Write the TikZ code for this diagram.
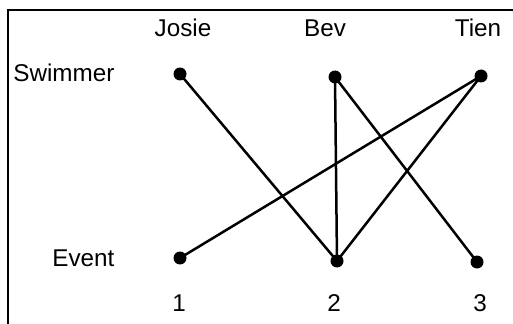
\documentclass[tikz,border=0pt]{standalone}
\usepackage{fontspec}
\setmainfont{Liberation Sans}
\usepackage{tikz}
\usetikzlibrary{shapes,arrows,positioning}

\begin{document}
\begin{tikzpicture}[x=0.02cm, y=-0.02cm]
			\tikzstyle{Dot} 	= [circle, fill=black, minimum size=0.26cm, inner sep=0pt]
			\tikzstyle{Label}	= [font=\fontsize{13.8}{16}\selectfont, inner sep=0pt, anchor=base]
			\tikzstyle{Edge}	= [line width=0.05cm, black]
			
			\useasboundingbox (0,0) rectangle (513,324);
			\draw [line width=0.05cm] (8,340) -- (8,10) -- (530,10);
			
			\node (jo) at (183, 37) [Label] {Josie};
			\node (be) at (325, 37) [Label] {Bev};
			\node (ti) at (478, 37) [Label] {Tien};
			\node (sw) at (13, 82) [Label, anchor=base west] {Swimmer};
			\node (ev) at (52, 266) [Label, anchor=base west] {Event};
			\node (n1) at (179, 311) [Label] {1};
			\node (n2) at (334, 311) [Label] {2};
			\node (n3) at (480, 311) [Label] {3};
			
			\node (s1) at (180, 74) [Dot] {};
			\node (s2) at (335, 77) [Dot] {};
			\node (s3) at (481, 76) [Dot] {};
			\node (e1) at (180, 258) [Dot] {};
			\node (e2) at (337, 261) [Dot] {};
			\node (e3) at (477, 262) [Dot] {};
			
			\draw (s1.center) to (e2.center) [Edge];
			\draw (s2.center) to (e2.center) [Edge];
			\draw (s2.center) to (e3.center) [Edge];
			\draw (s3.center) to (e1.center) [Edge];
			\draw (s3.center) to (e2.center) [Edge];
		\end{tikzpicture}
\end{document}
